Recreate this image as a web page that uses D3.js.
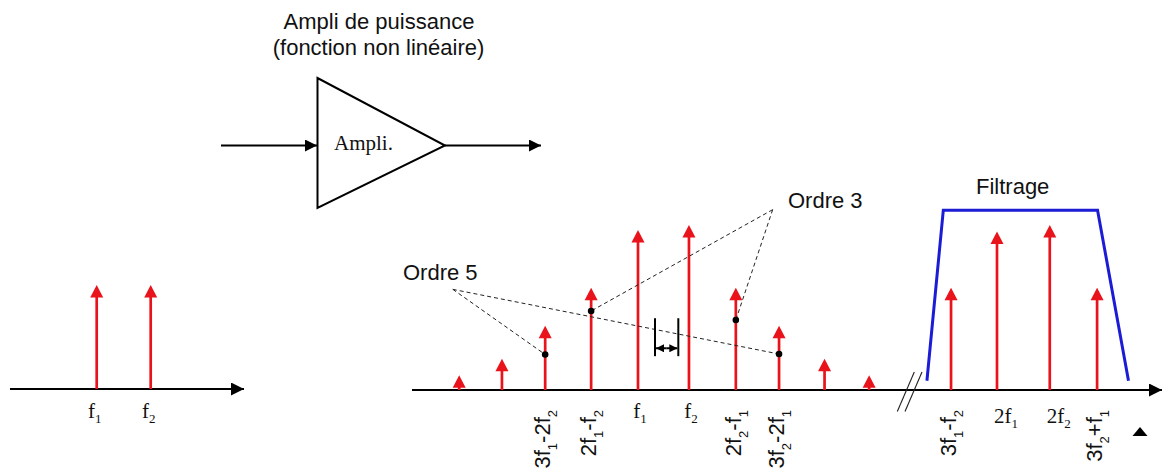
<!DOCTYPE html>
<html><head><meta charset="utf-8">
<script src="https://cdn.jsdelivr.net/npm/d3@7"></script>
<style>
html,body{margin:0;padding:0;background:#fff;}
svg{display:block;}
</style></head>
<body>
<svg id="c" width="1162" height="471"></svg>
<script>
// ---------- DATA ----------
// input spectrum (two tones)
const inputPos = [0, 1];
const inputAmp = [63, 63];
const inputLabels = ["f_1", "f_2"];

// output spectrum around the fundamentals (relative frequency units, f1 = 0)
const mainPos = [-3.93, -2.99, -2.04, -1.03, 0, 1.12, 2.15, 3.1, 4.1, 5.08];
const mainAmp = [9, 19, 39, 62, 97, 100, 62, 39, 19, 9];
const mainLabels = ["", "", "3f_1-2f_2", "2f_1-f_2", "f_1", "f_2", "2f_2-f_1", "3f_2-2f_1", "", ""];
const mainRotated = [false, false, true, true, false, false, true, true, false, false];

// harmonic zone (after the axis break)
const harmPos = [6.88, 7.89, 9.05, 10.09];
const harmAmp = [62, 96, 100, 62];
const harmLabels = ["3f_1-f_2", "2f_1", "2f_2", "3f_2+f_1"];
const harmRotated = [true, false, false, true];

// filter template
const filterPos = [6.35, 6.71, 10.1, 10.78];
const filterGain = [5.6, 109, 109, 5.6];

// annotation markers (position, level)
const order5Apex = [-4.07, 61];
const order5Dots = [[-2.04, 21.5], [3.1, 21.8]];
const order3Apex = [2.96, 109.3];
const order3Dots = [[-1.03, 47.9], [2.15, 42.4]];
const spacingMarks = [0.374, 0.886];
const spacingLevels = [20.5, 43.5, 25.3];

// ---------- SCALES ----------
const svg = d3.select("#c");
const RED = "#e8131b", BLUE = "#1c1cd6";

const xIn = d3.scaleLinear().domain([0, 1]).range([96.7, 150.7]);
const yIn = d3.scaleLinear().domain([0, 100]).range([389, 224]);
const xMain = d3.scaleLinear().domain([-4, 5]).range([456, 865.5]);
const yMain = d3.scaleLinear().domain([0, 100]).range([390, 225]);

// ---------- DEFS ----------
const defs = svg.append("defs");
function marker(id, color, w, h) {
  defs.append("marker").attr("id", id).attr("viewBox", "0 0 10 10")
    .attr("refX", 10).attr("refY", 5).attr("markerUnits", "userSpaceOnUse")
    .attr("markerWidth", w).attr("markerHeight", h).attr("orient", "auto-start-reverse")
    .append("path").attr("d", "M0,0L10,5L0,10Z").attr("fill", color);
}
marker("axArrow", "#000", 14, 13);
marker("ampArrow", "#000", 12, 12);
marker("smallArrow", "#000", 8, 8);

// ---------- HELPERS ----------
function addLabel(g, str, opts) {
  const t = g.append("text")
    .attr("font-family", opts.family)
    .attr("font-size", opts.size)
    .attr("fill", "#111")
    .attr("text-anchor", opts.anchor)
    .attr("transform", opts.transform);
  const parts = str.split(/(_[0-9])/).filter(s => s.length);
  let inSub = false;
  parts.forEach(p => {
    if (p[0] === "_") {
      t.append("tspan").text(p.slice(1)).attr("font-size", opts.subSize).attr("dy", opts.subShift);
      inSub = true;
    } else {
      const ts = t.append("tspan").text(p);
      if (inSub) { ts.attr("dy", -opts.subShift); inSub = false; }
    }
  });
  return t;
}

function spikes(g, xs, ys, pos, amp) {
  const head = 12.5, half = 6.5;
  const sel = g.selectAll("g.sp").data(pos.map((p, i) => ({p, a: amp[i]}))).enter().append("g");
  sel.append("line")
    .attr("x1", d => xs(d.p)).attr("x2", d => xs(d.p))
    .attr("y1", ys(0)).attr("y2", d => ys(d.a) + head - 1)
    .attr("stroke", RED).attr("stroke-width", 2.7);
  sel.append("path")
    .attr("d", d => {
      const x = xs(d.p), y = ys(d.a);
      return `M${x},${y}L${x + half},${y + head}L${x - half},${y + head}Z`;
    })
    .attr("fill", RED);
}

// ---------- TITLE + AMPLIFIER ----------
svg.append("text").attr("x", 379).attr("y", 29).attr("text-anchor", "middle")
  .attr("font-family", "Liberation Sans, Arial, sans-serif").attr("font-size", 22)
  .attr("fill", "#111").text("Ampli de puissance");
svg.append("text").attr("x", 378.5).attr("y", 55).attr("text-anchor", "middle")
  .attr("font-family", "Liberation Sans, Arial, sans-serif").attr("font-size", 22)
  .attr("fill", "#111").text("(fonction non linéaire)");

svg.append("path").attr("d", "M317.5,78L317.5,208L445,145.5Z")
  .attr("fill", "none").attr("stroke", "#000").attr("stroke-width", 2);
svg.append("line").attr("x1", 221).attr("y1", 145.5).attr("x2", 317).attr("y2", 145.5)
  .attr("stroke", "#000").attr("stroke-width", 2).attr("marker-end", "url(#ampArrow)");
svg.append("line").attr("x1", 445).attr("y1", 145.5).attr("x2", 541).attr("y2", 145.5)
  .attr("stroke", "#000").attr("stroke-width", 2).attr("marker-end", "url(#ampArrow)");
svg.append("text").attr("x", 334).attr("y", 149.5)
  .attr("font-family", "Liberation Serif, Times New Roman, serif").attr("font-size", 21)
  .attr("fill", "#111").text("Ampli.");

// ---------- INPUT SPECTRUM ----------
const gIn = svg.append("g");
gIn.append("line").attr("x1", 10).attr("y1", yIn(0)).attr("x2", 244).attr("y2", yIn(0))
  .attr("stroke", "#000").attr("stroke-width", 2).attr("marker-end", "url(#axArrow)");
spikes(gIn, xIn, yIn, inputPos, inputAmp);
inputPos.forEach((p, i) => addLabel(gIn, inputLabels[i], {
  family: "Liberation Serif, Times New Roman, serif", size: 21, subSize: 13, subShift: 5,
  anchor: "middle", transform: `translate(${xIn(p) - 2},418)`
}));

// ---------- OUTPUT SPECTRUM ----------
const gOut = svg.append("g");
gOut.append("line").attr("x1", 412).attr("y1", yMain(0)).attr("x2", 1162).attr("y2", yMain(0))
  .attr("stroke", "#000").attr("stroke-width", 2).attr("marker-end", "url(#axArrow)");

// axis break
const bx = 905;
[0, 7.7].forEach(o => gOut.append("line")
  .attr("x1", bx - 7.7 + o).attr("y1", 411.5).attr("x2", bx + 9.3 + o).attr("y2", 372)
  .attr("stroke", "#222").attr("stroke-width", 1.1));

// filter
gOut.append("path")
  .attr("d", d3.line().x(d => xMain(d[0])).y(d => yMain(d[1]))(filterPos.map((p, i) => [p, filterGain[i]])))
  .attr("fill", "none").attr("stroke", BLUE).attr("stroke-width", 3).attr("stroke-linejoin", "miter");

spikes(gOut, xMain, yMain, mainPos, mainAmp);
spikes(gOut, xMain, yMain, harmPos, harmAmp);

// dashed annotation lines
const dash = (a, b) => gOut.append("line")
  .attr("x1", xMain(a[0])).attr("y1", yMain(a[1])).attr("x2", xMain(b[0])).attr("y2", yMain(b[1]))
  .attr("stroke", "#222").attr("stroke-width", 1).attr("stroke-dasharray", "4,3");
order5Dots.forEach(d => dash(order5Apex, d));
order3Dots.forEach(d => dash(order3Apex, d));
gOut.selectAll("circle.dot").data(order5Dots.concat(order3Dots)).enter().append("circle")
  .attr("cx", d => xMain(d[0])).attr("cy", d => yMain(d[1])).attr("r", 3.3).attr("fill", "#000");

// spacing marks
spacingMarks.forEach(p => gOut.append("line")
  .attr("x1", xMain(p)).attr("x2", xMain(p))
  .attr("y1", yMain(spacingLevels[0])).attr("y2", yMain(spacingLevels[1]))
  .attr("stroke", "#000").attr("stroke-width", 2));
const midX = (xMain(spacingMarks[0]) + xMain(spacingMarks[1])) / 2;
gOut.append("line").attr("x1", midX).attr("x2", xMain(spacingMarks[0]) + 1)
  .attr("y1", yMain(spacingLevels[2])).attr("y2", yMain(spacingLevels[2]))
  .attr("stroke", "#000").attr("stroke-width", 2).attr("marker-end", "url(#smallArrow)");
gOut.append("line").attr("x1", midX).attr("x2", xMain(spacingMarks[1]) - 1)
  .attr("y1", yMain(spacingLevels[2])).attr("y2", yMain(spacingLevels[2]))
  .attr("stroke", "#000").attr("stroke-width", 2).attr("marker-end", "url(#smallArrow)");

// labels
function labelSet(pos, labels, rotated, horizBaseline, horizAnchor, horizDx) {
  pos.forEach((p, i) => {
    if (!labels[i]) return;
    const x = xMain(p);
    if (rotated[i]) {
      addLabel(gOut, labels[i], {
        family: "Liberation Sans, Arial, sans-serif", size: 22, subSize: 13, subShift: 7,
        anchor: "end", transform: `translate(${x + 5},410) rotate(-90)`
      });
    } else {
      addLabel(gOut, labels[i], {
        family: "Liberation Serif, Times New Roman, serif", size: 21, subSize: 13, subShift: 5,
        anchor: horizAnchor, transform: `translate(${x + horizDx},${horizBaseline})`
      });
    }
  });
}
labelSet(mainPos, mainLabels, mainRotated, 417.5, "middle", 2);
labelSet(harmPos, harmLabels, harmRotated, 422.5, "start", -3);

// annotation texts
const txt = (x, y, s) => svg.append("text").attr("x", x).attr("y", y)
  .attr("font-family", "Liberation Sans, Arial, sans-serif").attr("font-size", 22)
  .attr("fill", "#111").text(s);
txt(403, 280, "Ordre 5");
txt(788, 208, "Ordre 3");
txt(976, 194, "Filtrage");

// small marker triangle
svg.append("path").attr("d", "M1140,427L1147.5,436L1132.5,436Z").attr("fill", "#000");
</script>
</body></html>
